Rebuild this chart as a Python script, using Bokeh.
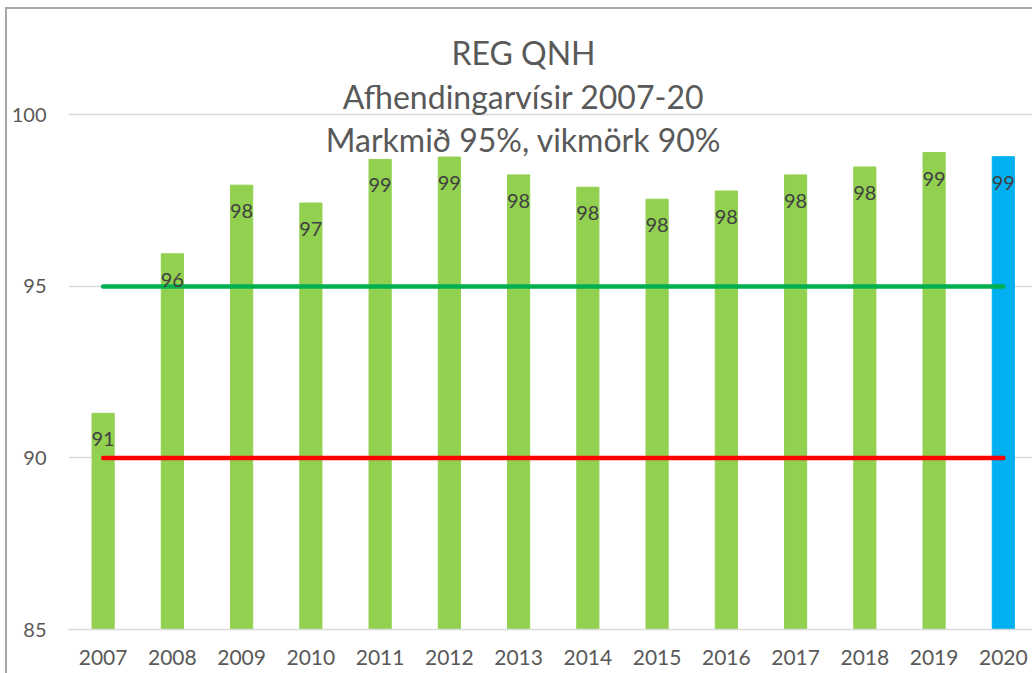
from bokeh.plotting import figure
from bokeh.models import (ColumnDataSource, Range1d, FixedTicker, LabelSet, Label)
from bokeh.core.properties import value
from bokeh.embed import file_html
from bokeh.resources import INLINE

# ---- data ----
years = ["2007", "2008", "2009", "2010", "2011", "2012", "2013",
         "2014", "2015", "2016", "2017", "2018", "2019", "2020"]
values = [91.3, 95.95, 97.95, 97.43, 98.7, 98.77, 98.25,
          97.89, 97.54, 97.78, 98.25, 98.48, 98.9, 98.78]
target = 95   # Markmið
tolerance = 90  # vikmörk
y_ticks = [85, 90, 95, 100]
title_lines = ["REG QNH", "Afhendingarvísir 2007-20", "Markmið 95%, vikmörk 90%"]

FONT = "Lato"
GREEN_BAR = "#92d050"
BLUE_BAR = "#00b0f0"

n = len(years)
idx = list(range(n))
colors = [GREEN_BAR] * (n - 1) + [BLUE_BAR]
labels = [str(int(round(v))) for v in values]

src = ColumnDataSource(dict(x=idx, top=values, color=colors, label=labels))

p = figure(width=1027, height=666, output_backend="svg", toolbar_location=None,
           x_range=Range1d(-0.5, 13.45), y_range=Range1d(85, 103.07),
           min_border_left=61, min_border_right=0, min_border_top=0,
           min_border_bottom=46)
p.styles = {"border-left": "2px solid #a6a6a6", "border-top": "2px solid #a6a6a6",
            "margin-left": "5px", "margin-top": "7px"}
p.outline_line_color = None
p.background_fill_color = "white"
p.border_fill_color = "white"

p.vbar(x="x", top="top", bottom=85, width=0.32, color="color", source=src)

p.line(x=idx, y=[target] * n, line_color="#00b050", line_width=4.5, line_cap="round")
p.line(x=idx, y=[tolerance] * n, line_color="#ff0000", line_width=4.5, line_cap="round")

p.add_layout(LabelSet(x="x", y="top", text="label", source=src, y_offset=-26,
                      text_align="center", text_baseline="middle",
                      text_font=value(FONT), text_font_size="20px", text_color="#404040"))

# axes
p.xaxis.ticker = FixedTicker(ticks=idx)
p.xaxis.major_label_overrides = {i: y for i, y in zip(idx, years)}
p.xaxis.major_tick_line_color = None
p.xaxis.minor_tick_line_color = None
p.xaxis.major_tick_out = 0
p.xaxis.axis_line_color = "#d9d9d9"
p.xaxis.axis_line_width = 1.5
p.xaxis.major_label_standoff = 20
p.xaxis.major_label_text_font = FONT
p.xaxis.major_label_text_font_size = "21px"
p.xaxis.major_label_text_color = "#595959"

p.yaxis.ticker = FixedTicker(ticks=y_ticks)
p.yaxis.major_tick_line_color = None
p.yaxis.minor_tick_line_color = None
p.yaxis.major_tick_out = 0
p.yaxis.axis_line_color = None
p.yaxis.major_label_standoff = 22
p.yaxis.major_label_text_font = FONT
p.yaxis.major_label_text_font_size = "20px"
p.yaxis.major_label_text_color = "#595959"

p.xgrid.grid_line_color = None
p.ygrid.ticker = FixedTicker(ticks=y_ticks)
p.ygrid.grid_line_color = "#d9d9d9"
p.ygrid.grid_line_width = 1.5

# title lines inside the plot area
for i, t in enumerate(title_lines):
    p.add_layout(Label(x=455, y=577 - i * 43.5, x_units="screen", y_units="screen",
                       text=t, text_align="center", text_baseline="alphabetic",
                       text_font=FONT, text_font_size="32px", text_color="#595959"))

open("out.html", "w").write(file_html(p, INLINE))
